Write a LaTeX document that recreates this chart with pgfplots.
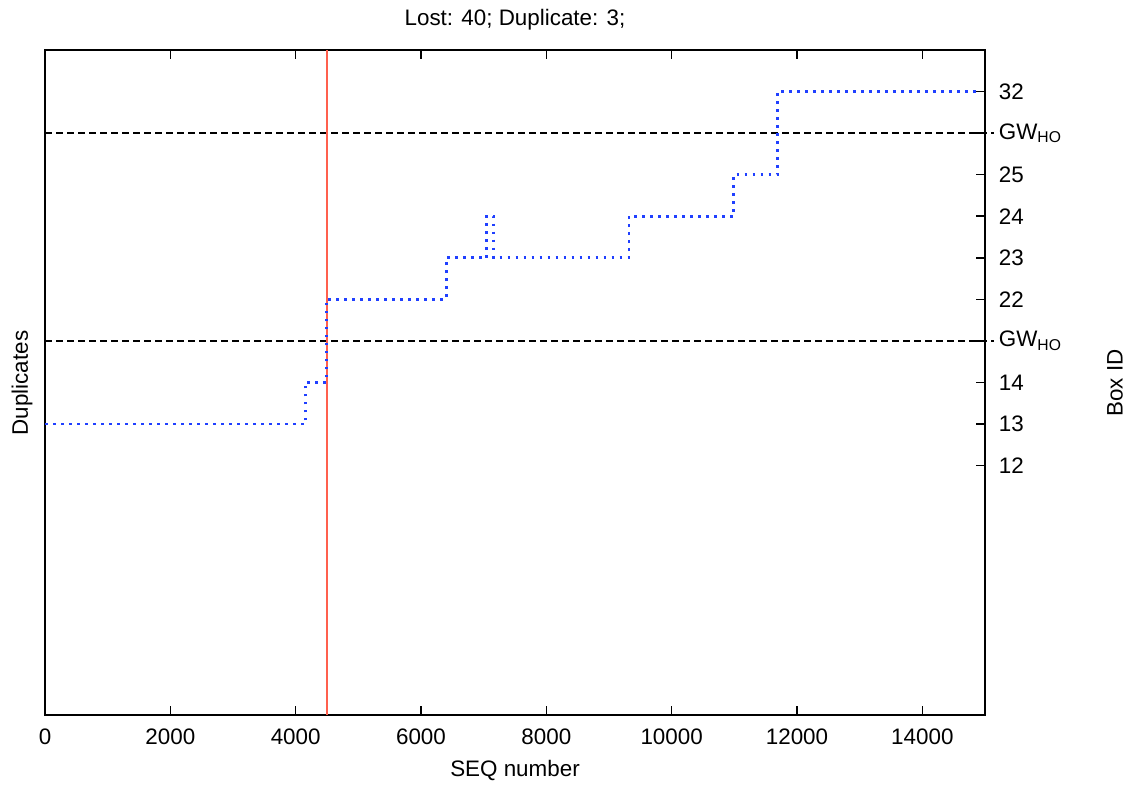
\documentclass[border=0pt]{standalone}
\usepackage{fontspec}
\setmainfont{Liberation Sans}
\usepackage{pgfplots}
\pgfplotsset{compat=1.18}
\definecolor{stepBlue}{HTML}{2040FF}
\definecolor{markRed}{HTML}{FF604D}
\begin{document}
\fontsize{11.2}{13.4}\selectfont
\begin{tikzpicture}
  \begin{axis}[
    scale only axis,
    width=470pt, height=332.5pt,
    xmin=0, xmax=15000,
    ymin=0, ymax=16,
    clip=false,
    axis line style={draw=black, line width=0.75pt},
    tick style={draw=black, line width=0.75pt},
    major tick length=4.5pt,
    xtick={0,2000,...,14000},
    scaled x ticks=false,
    xtick pos=both,
    xticklabel pos=lower,
    ytick={6,7,8,9,10,11,12,13,14,15},
    yticklabels={12,13,14,GW\textsubscript{HO},22,23,24,25,GW\textsubscript{HO},32},
    ytick pos=right,
    yticklabel pos=right,
    y tick label style={anchor=west, xshift=3pt},
    x tick label style={yshift=-3pt},
    /pgf/number format/assume math mode=true,
    /pgf/number format/1000 sep={},
    xlabel={SEQ number},
    xlabel style={at={(axis description cs:0.5,-0.0842)}, anchor=center},
    ylabel={Duplicates},
    ylabel style={at={(axis description cs:-0.0245,0.4992)}, anchor=center, rotate=0},
    title={Lost: 40; Duplicate: 3;},
    every axis title shift=0pt,
    title style={at={(axis description cs:0.5,1.0451)}, anchor=center},
  ]
    % GW_HO thresholds
    \addplot[black, line width=0.75pt, dash pattern=on 3.5pt off 2pt]
      coordinates {(0,9) (15150,9)};
    \addplot[black, line width=0.75pt, dash pattern=on 3.5pt off 2pt]
      coordinates {(0,14) (15150,14)};
    % handover instant
    \addplot[markRed, line width=0.75pt]
      coordinates {(4500,0) (4500,16)};
    % box id over seq number
    \addplot[stepBlue, const plot, line width=1.4pt, dash pattern=on 1.4pt off 2.6pt]
      coordinates {
        (0,7) (4153,8) (4490,10) (6401,11) (7045,12) (7161,11)
        (9318,12) (10986,13) (11688,15) (14883,15)
      };
    \node[rotate=90, anchor=center] at (axis description cs:1.1383,0.4992) {Box ID};
  \end{axis}
  \pgfresetboundingbox
  \path (-22.5pt,-35.5pt) rectangle (541.5pt,357.5pt);
\end{tikzpicture}
\end{document}
